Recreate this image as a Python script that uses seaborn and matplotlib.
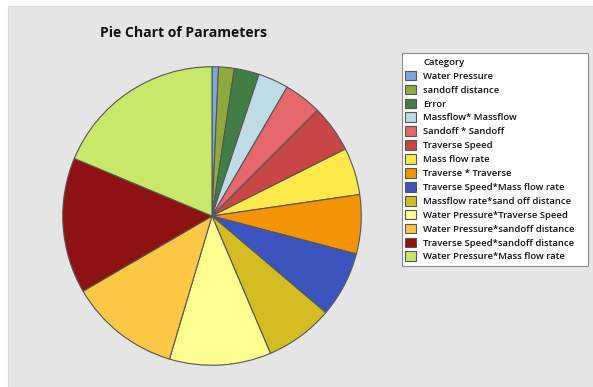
import matplotlib
matplotlib.use("Agg")
import matplotlib.pyplot as plt
import seaborn as sns
from matplotlib.patches import Rectangle

categories = [
    "Water Pressure", "sandoff distance", "Error", "Massflow* Massflow",
    "Sandoff * Sandoff", "Traverse Speed", "Mass flow rate", "Traverse * Traverse",
    "Traverse Speed*Mass flow rate", "Massflow rate*sand off distance",
    "Water Pressure*Traverse Speed", "Water Pressure*sandoff distance",
    "Traverse Speed*sandoff distance", "Water Pressure*Mass flow rate",
]
values = [0.7, 1.7, 2.7, 3.3, 4.1, 5.1, 5.1, 6.4, 7.1, 7.4, 11.0, 12.0, 14.7, 18.7]
colors = ["#7BA7DC", "#8FAA3C", "#437D46", "#BEDCE6", "#E5686A", "#C84646",
          "#FFE84A", "#F39406", "#3C55BE", "#D3BD22", "#FFFF90", "#FCC744",
          "#8F1212", "#C8E86A"]
legend_title = "Category"
chart_title = "Pie Chart of Parameters"

sns.set_style("white")
plt.rcParams["font.family"] = ["Open Sans", "DejaVu Sans"]

W, H = 593, 387
fig = plt.figure(figsize=(W / 100, H / 100), dpi=100, facecolor="white")
fig.patches.append(Rectangle((8 / W, 0), 1 - 8 / W, 1 - 6 / H,
                             transform=fig.transFigure, facecolor="#E5E5E5",
                             edgecolor="#D8D8D8", linewidth=0.8, zorder=-10))
# legend box
fig.patches.append(Rectangle((402 / W, 1 - 266 / H), 186 / W, 213 / H,
                             transform=fig.transFigure, facecolor="white",
                             edgecolor="#8A8A8A", linewidth=0.8, zorder=-5))

cx, cy, r = 212, 216, 150
ax = fig.add_axes([(cx - r) / W, (H - cy - r) / H, 2 * r / W, 2 * r / H])
ax.set_facecolor("none")
palette = sns.color_palette(colors)
wedges, _ = ax.pie(values, colors=palette, startangle=90, counterclock=False,
                   wedgeprops=dict(edgecolor="#555555", linewidth=0.8))
ax.set_xlim(-1.005, 1.005)
ax.set_ylim(-1.005, 1.005)
ax.set_aspect("equal")

fig.text(183 / W, 1 - 33 / H, chart_title, ha="center", va="center",
         fontsize=10.1, fontweight="bold", color="#111111")

blank = Rectangle((0, 0), 1, 1, facecolor="none", edgecolor="none")
leg = fig.legend([blank] + list(wedges), [legend_title] + categories, loc="upper left",
                 bbox_to_anchor=(402 / W, 1 - 54 / H), bbox_transform=fig.transFigure,
                 frameon=False, fontsize=6.8,
                 handlelength=1.2, handleheight=1.2, handletextpad=0.75,
                 labelspacing=0.41, borderpad=0.3, borderaxespad=0)
for t in leg.get_texts():
    t.set_fontweight("semibold")
    t.set_color("#111111")
fig.savefig("out.png", dpi=100, facecolor="white")
